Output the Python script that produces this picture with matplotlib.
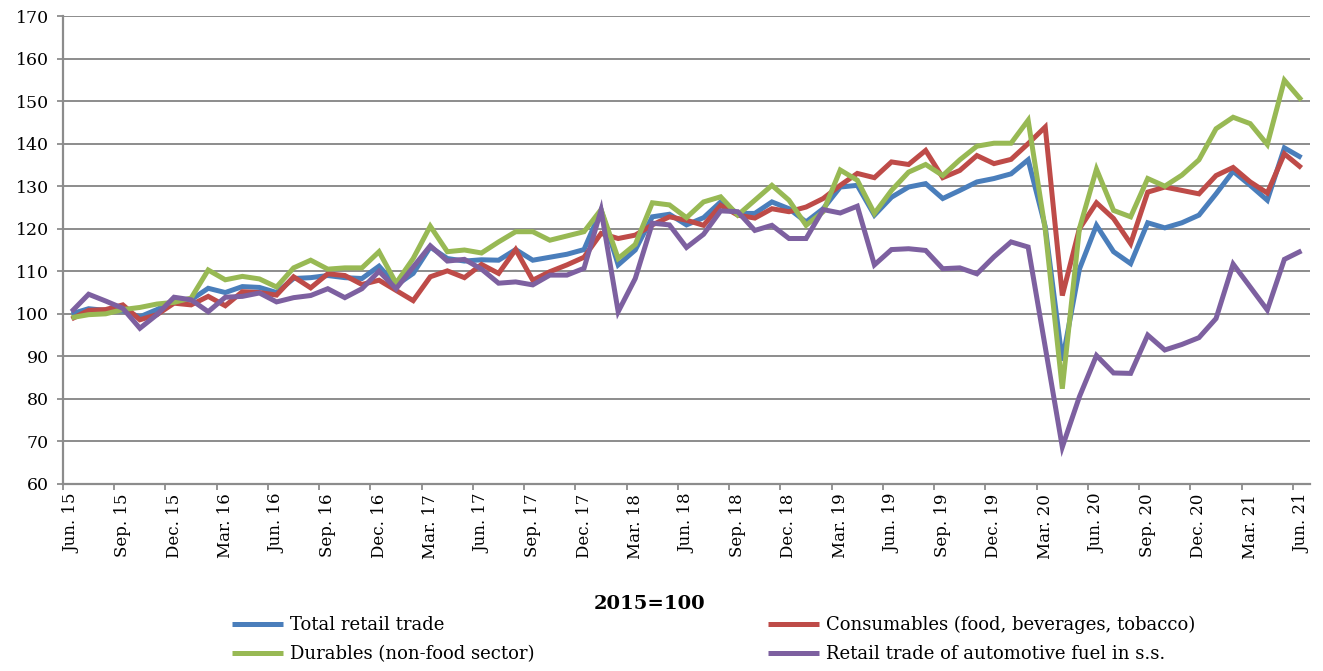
import matplotlib
matplotlib.use("Agg")
import matplotlib.pyplot as plt
from matplotlib.ticker import FixedLocator, NullFormatter

# ---- data (monthly, Jun 2015 .. Jun 2021, 2015=100) ----
tick_labels = ["Jun. 15", "Sep. 15", "Dec. 15", "Mar. 16", "Jun. 16", "Sep. 16",
               "Dec. 16", "Mar. 17", "Jun. 17", "Sep. 17", "Dec. 17", "Mar. 18",
               "Jun. 18", "Sep. 18", "Dec. 18", "Mar. 19", "Jun. 19", "Sep. 19",
               "Dec. 19", "Mar. 20", "Jun. 20", "Sep. 20", "Dec. 20", "Mar. 21",
               "Jun. 21"]

total_retail = [100.0, 101.2, 100.8, 100.7, 99.3, 101.0, 103.0, 103.3, 106.0, 105.0,
                106.4, 106.2, 105.0, 108.3, 108.5, 109.0, 108.5, 108.3, 111.2, 106.7,
                109.5, 115.7, 113.0, 112.4, 112.7, 112.6, 115.1, 112.6, 113.3, 114.0,
                115.1, 124.4, 111.5, 115.0, 122.8, 123.4, 120.9, 122.6, 126.3, 123.6,
                123.6, 126.3, 124.7, 121.6, 124.7, 129.8, 130.2, 123.2, 127.4, 129.8,
                130.6, 127.1, 129.0, 131.0, 131.8, 132.9, 136.2, 120.5, 89.0, 110.5,
                120.8, 114.6, 111.8, 121.4, 120.2, 121.4, 123.2, 128.2, 133.5, 130.2,
                126.7, 139.0, 136.7]

consumables = [98.8, 100.8, 101.0, 102.1, 98.6, 99.8, 102.5, 102.1, 104.1, 101.9,
               105.2, 105.0, 104.4, 108.7, 106.1, 109.4, 109.0, 106.9, 107.9, 105.5,
               103.1, 108.7, 110.1, 108.5, 111.6, 109.5, 115.1, 107.9, 109.9, 111.5,
               113.3, 118.9, 117.7, 118.5, 120.9, 122.8, 122.0, 120.8, 125.5, 123.2,
               122.5, 124.7, 124.0, 125.1, 127.1, 130.2, 133.0, 132.0, 135.7, 135.1,
               138.4, 132.0, 133.7, 137.2, 135.3, 136.3, 140.0, 143.9, 104.3, 120.0,
               126.1, 122.4, 116.5, 128.6, 129.8, 129.0, 128.2, 132.5, 134.4, 131.0,
               128.4, 137.6, 134.3]

durables = [99.1, 99.8, 100.0, 101.0, 101.5, 102.3, 102.7, 103.7, 110.3, 108.0,
            108.8, 108.2, 106.3, 110.8, 112.6, 110.5, 110.8, 110.8, 114.6, 107.2,
            113.0, 120.6, 114.6, 115.0, 114.3, 116.9, 119.3, 119.3, 117.3, 118.3,
            119.3, 124.5, 113.0, 116.3, 126.1, 125.6, 122.6, 126.3, 127.5, 123.2,
            126.7, 130.2, 126.7, 120.8, 124.0, 133.8, 131.4, 123.6, 129.0, 133.3,
            135.1, 132.5, 136.2, 139.4, 140.1, 140.1, 145.5, 119.8, 82.4, 120.0,
            134.0, 124.3, 122.8, 131.8, 130.0, 132.6, 136.2, 143.5, 146.2, 144.7,
            139.8, 154.9, 150.2]

fuel = [100.5, 104.6, 103.0, 101.3, 96.6, 99.8, 103.9, 103.3, 100.5, 103.9,
        104.1, 104.9, 102.8, 103.8, 104.3, 105.9, 103.8, 105.9, 110.0, 105.9,
        111.0, 116.0, 112.4, 112.8, 110.5, 107.2, 107.5, 106.8, 109.1, 109.1,
        110.7, 124.4, 100.5, 108.3, 121.3, 120.9, 115.6, 118.7, 124.2, 124.0,
        119.6, 120.8, 117.7, 117.7, 124.5, 123.7, 125.3, 111.5, 115.1, 115.3,
        114.9, 110.6, 110.8, 109.4, 113.4, 116.9, 115.7, 92.2, 68.7, 80.5,
        90.2, 86.1, 86.0, 95.0, 91.5, 92.8, 94.4, 98.9, 111.7, 106.3,
        100.9, 112.8, 114.8]

series_names = ["Total retail trade", "Consumables (food, beverages, tobacco)",
                "Durables (non-food sector)", "Retail trade of automotive fuel in s.s."]
series_values = [total_retail, consumables, durables, fuel]
series_colors = ["#4A7EBB", "#BE4B48", "#98B954", "#7D60A0"]

# ---- figure ----
W, H = 1323, 671
fig = plt.figure(figsize=(W / 100, H / 100), dpi=100)
ax = fig.add_axes([63 / W, 1 - 484 / H, (1310 - 63) / W, (484 - 16) / H])

FONT = "DejaVu Serif"
n = len(total_retail)
x = list(range(n))
handles = []
for name, vals, col in zip(series_names, series_values, series_colors):
    h, = ax.plot(x, vals, color=col, lw=3.6, label=name, solid_joinstyle="miter",
                 solid_capstyle="butt")
    handles.append(h)

ax.set_xlim(-0.5, n - 0.5)
ax.set_ylim(60, 170)
ax.set_yticks(range(60, 171, 10))
ax.grid(axis="y", color="#8C8C8C", lw=1.4)
ax.set_axisbelow(True)

# category labels at centres, tick marks at category boundaries
label_pos = list(range(0, n, 3))
ax.xaxis.set_major_locator(FixedLocator(label_pos))
ax.set_xticklabels(tick_labels, rotation=90, fontsize=12, fontfamily=FONT)
ax.tick_params(axis="x", which="major", length=0, pad=7)
ax.xaxis.set_minor_locator(FixedLocator([p - 0.5 for p in label_pos[:-1]] + [n - 1.5]))
ax.xaxis.set_minor_formatter(NullFormatter())
ax.tick_params(axis="x", which="minor", length=4, width=1.3, color="#8C8C8C")
ax.tick_params(axis="y", length=4, width=1.3, color="#8C8C8C", pad=6)
for lab in ax.get_yticklabels():
    lab.set_fontfamily(FONT)
    lab.set_fontsize(12.5)

for s in ["top", "right"]:
    ax.spines[s].set_visible(False)
for s in ["left", "bottom"]:
    ax.spines[s].set_color("#8C8C8C")
    ax.spines[s].set_linewidth(1.6)

fig.text(649.5 / W, 1 - 604 / H, "2015=100", ha="center", va="center",
         fontsize=14, fontweight="bold", fontfamily=FONT)

order = [0, 2, 1, 3]
leg = fig.legend([handles[i] for i in order], [series_names[i] for i in order],
                 ncol=2, loc="upper left", bbox_to_anchor=(232 / W, 1 - 616 / H),
                 frameon=False, borderpad=0, borderaxespad=0,
                 handlelength=2.8, handletextpad=0.4, columnspacing=12.95,
                 labelspacing=0.6, prop={"family": FONT, "size": 13})

fig.savefig("out.png", dpi=100)
